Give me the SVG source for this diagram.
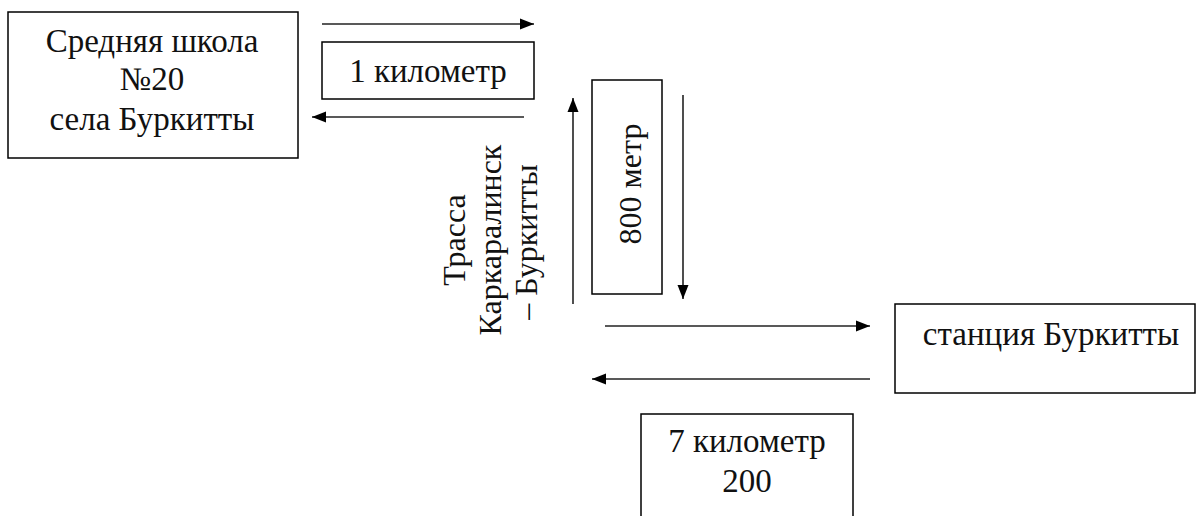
<svg xmlns="http://www.w3.org/2000/svg" width="1197" height="516" viewBox="0 0 1197 516">
<style>
.box{fill:#fff;stroke:#000;stroke-width:1.5}
.c{stroke:#222;stroke-width:1.6;fill:none}
.v{font-size:32px}
</style>
<defs>
<marker id="ah" markerUnits="userSpaceOnUse" markerWidth="14" markerHeight="12" refX="14" refY="6" orient="auto">
<path d="M0,0.5 L14,6 L0,11.5 z" fill="#000"/>
</marker>
</defs>
<rect width="1197" height="516" fill="#fff"/>
<g font-family="Liberation Serif, serif" font-size="33" fill="#111" text-anchor="middle">
<g id="school">
<rect class="box" x="8" y="12" width="290" height="146"/>
<text x="152" y="52">Средняя школа</text>
<text x="152" y="90">№20</text>
<text x="152" y="130">села Буркитты</text>
</g>
<g id="label-1km">
<rect class="box" x="322" y="42" width="212" height="57"/>
<text x="428" y="82">1 километр</text>
</g>
<g id="label-800m">
<rect class="box" x="592" y="80" width="70" height="214"/>
<text class="v" transform="translate(641,184) rotate(-90)">800 метр</text>
</g>
<g id="label-road">
<text class="v" transform="translate(465,240) rotate(-90)">Трасса</text>
<text class="v" transform="translate(501,240) rotate(-90)">Каркаралинск</text>
<text class="v" transform="translate(537,242) rotate(-90)">– Буркитты</text>
</g>
<g id="station">
<rect class="box" x="895" y="304" width="300" height="89"/>
<text x="1051" y="345">станция Буркитты</text>
</g>
<g id="label-7km">
<rect class="box" x="641" y="414" width="212" height="110"/>
<text x="747" y="452">7 километр</text>
<text x="747" y="492">200</text>
</g>
</g>
<g id="connectors">
<line class="c" x1="322" y1="24" x2="534" y2="24" marker-end="url(#ah)"/>
<line class="c" x1="524" y1="117" x2="312" y2="117" marker-end="url(#ah)"/>
<line class="c" x1="573" y1="304" x2="573" y2="98" marker-end="url(#ah)"/>
<line class="c" x1="683" y1="95" x2="683" y2="299" marker-end="url(#ah)"/>
<line class="c" x1="605" y1="326" x2="870" y2="326" marker-end="url(#ah)"/>
<line class="c" x1="870" y1="379" x2="592" y2="379" marker-end="url(#ah)"/>
</g>
</svg>
